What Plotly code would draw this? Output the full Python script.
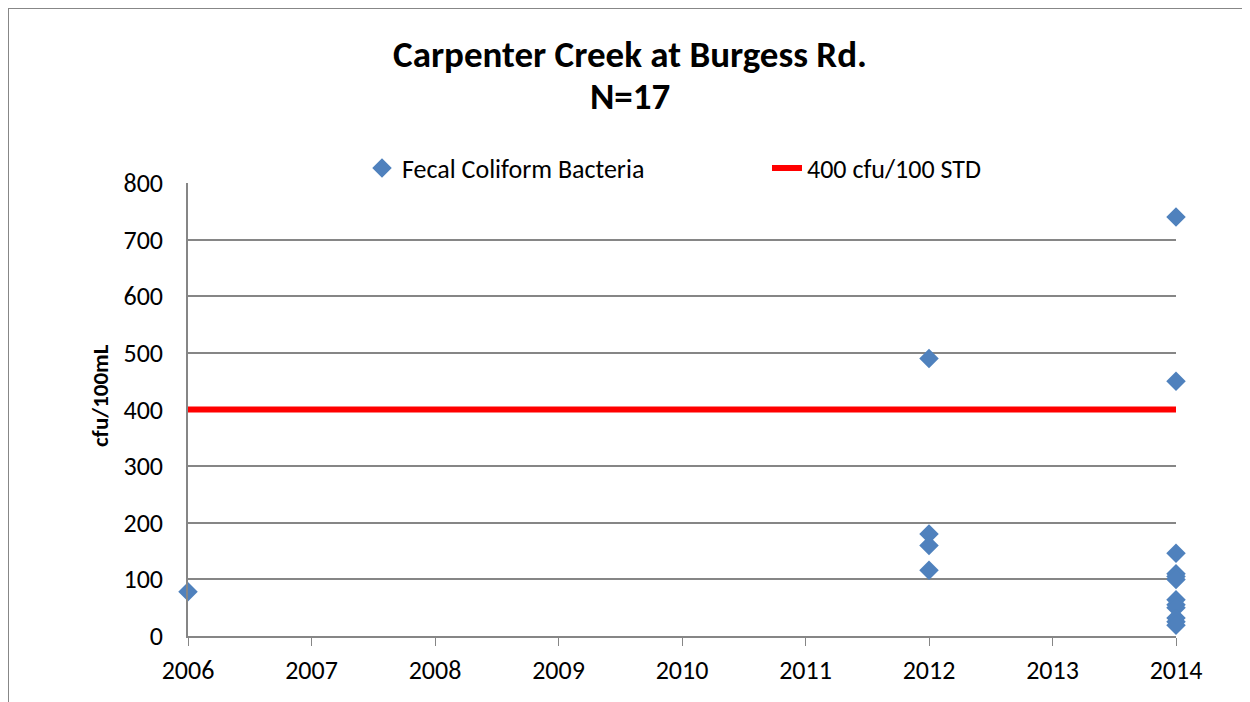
import plotly.graph_objects as go

# sample years and fecal coliform counts (cfu/100mL)
years = [2006,
         2012, 2012, 2012, 2012,
         2014, 2014, 2014, 2014, 2014, 2014, 2014, 2014, 2014, 2014, 2014, 2014]
fecal = [78,
         490, 180, 160, 116,
         740, 450, 146, 110, 105, 100, 64, 55, 50, 32, 25, 19]

std_years = [2006, 2014]
std_values = [400, 400]

x_ticks = list(range(2006, 2015))
y_ticks = list(range(0, 900, 100))

FONT = "Carlito, Calibri, Lato, sans-serif"
GRID = "#868686"

# the page body adds an 8px margin, so the figure is laid out 8px smaller
W, H = 1242, 694
L, T, R, B = 180, 175, 74, 66
PW, PH = W - L - R, H - T - B


def px(x):
    return (x - L) / PW


def py(y):
    return (H - B - y) / PH


fig = go.Figure()

fig.add_trace(
    go.Scatter(
        x=years,
        y=fecal,
        mode="markers",
        name="Fecal Coliform Bacteria",
        marker=dict(symbol="diamond", size=15, color="#4F81BD"),
        cliponaxis=False,
    )
)

fig.add_trace(
    go.Scatter(
        x=std_years,
        y=std_values,
        mode="lines",
        name="400 cfu/100 STD",
        line=dict(color="#FF0000", width=6),
        cliponaxis=False,
    )
)

# outer chart frame (left and top edges visible in the original)
fig.add_shape(type="line", xref="paper", yref="paper",
              x0=px(0), x1=px(W + 10), y0=py(0), y1=py(0),
              line=dict(color="#878787", width=2))
fig.add_shape(type="line", xref="paper", yref="paper",
              x0=px(0), x1=px(0), y0=py(0), y1=py(H + 10),
              line=dict(color="#878787", width=2))

fig.add_annotation(
    text="<b>N=17</b>", xref="paper", yref="paper",
    x=px(622), y=py(89), xanchor="center", yanchor="middle", showarrow=False,
    font=dict(family=FONT, size=37, color="black"),
)

fig.add_annotation(
    text="<b>cfu/100mL</b>", xref="paper", yref="paper",
    x=px(92), y=py(388), xanchor="center", yanchor="middle", showarrow=False,
    textangle=-90,
    font=dict(family=FONT, size=23, color="black"),
)

fig.update_layout(
    width=W,
    height=H,
    title=dict(
        text="<b>Carpenter Creek at Burgess Rd.</b>",
        x=622 / W, xanchor="center",
        y=1 - 46 / H, yanchor="middle",
        font=dict(family=FONT, size=37, color="black"),
    ),
    font=dict(family=FONT, size=26, color="black"),
    plot_bgcolor="white",
    paper_bgcolor="white",
    showlegend=True,
    legend=dict(
        orientation="h",
        x=px(354), xanchor="left",
        y=py(160), yanchor="middle",
        font=dict(family=FONT, size=26),
        entrywidth=360,
        bgcolor="rgba(0,0,0,0)",
    ),
    xaxis=dict(
        range=[2006, 2014],
        tickvals=x_ticks,
        ticks="outside",
        ticklen=8,
        tickcolor=GRID,
        ticklabelstandoff=2,
        showgrid=False,
        showline=True,
        linecolor=GRID,
        linewidth=1.5,
        zeroline=False,
    ),
    yaxis=dict(
        range=[0, 800],
        tickvals=y_ticks,
        showgrid=True,
        gridcolor=GRID,
        gridwidth=1.5,
        showline=True,
        linecolor=GRID,
        linewidth=1.5,
        zeroline=False,
        ticks="",
        ticklabelstandoff=18,
    ),
    margin=dict(l=L, r=R, t=T, b=B, autoexpand=False),
)

fig.write_html("out.html")
